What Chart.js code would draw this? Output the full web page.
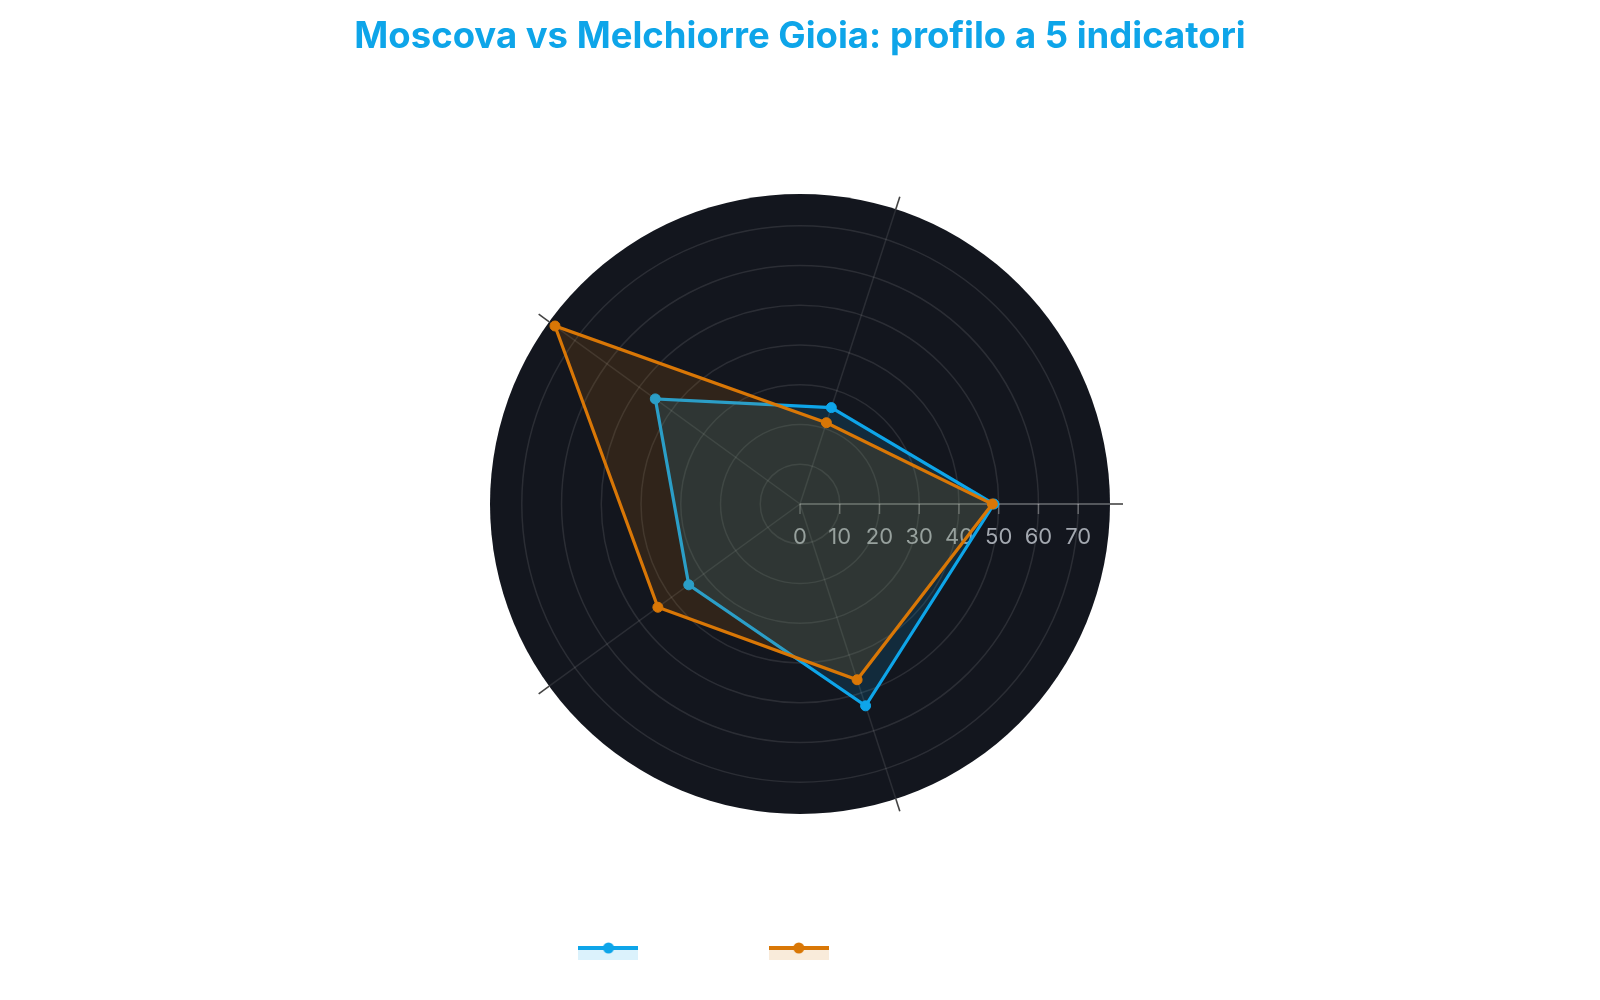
<!DOCTYPE html>
<html>
<head>
<meta charset="utf-8">
<title>Moscova vs Melchiorre Gioia</title>
<script src="https://cdn.jsdelivr.net/npm/chart.js@4.4.1/dist/chart.umd.min.js"></script>
<style>
  html, body { margin: 0; padding: 0; background: #ffffff; }
  #wrap { width: 1600px; height: 1000px; position: relative; }
</style>
</head>
<body>
<div id="wrap"><canvas id="chart"></canvas></div>
<script>
// ---- data (categories listed counter-clockwise starting from the right-hand axis) ----
const categories = ['Indicatore 1', 'Indicatore 2', 'Indicatore 3', 'Indicatore 4', 'Indicatore 5'];
const seriesNames = ['Moscova', 'Melchiorre Gioia'];
const moscovaValues = [48.8, 25.5, 45.0, 34.6, 53.4];
const melchiorreValues = [48.4, 21.5, 76.2, 44.2, 46.5];
const tickValues = [0, 10, 20, 30, 40, 50, 60, 70];
const axisMax = 78;

// ---- styles ----
const BLUE = '#0ea5e9';
const ORANGE = '#d97706';
const BLUE_FILL = 'rgba(14,165,233,0.15)';
const ORANGE_FILL = 'rgba(217,119,6,0.15)';

// Chart.js radar goes clockwise; the reference goes counter-clockwise from the right.
const order = [0, 4, 3, 2, 1];
const pick = arr => order.map(i => arr[i]);

function makeIcon(color, fill) {
  const c = document.createElement('canvas');
  c.width = 60; c.height = 24;
  const x = c.getContext('2d');
  x.fillStyle = fill; x.fillRect(0, 9, 60, 10);
  x.fillStyle = color; x.fillRect(0, 5, 60, 4);
  x.beginPath(); x.arc(30, 7, 5.5, 0, Math.PI * 2); x.fill();
  return c;
}
const icons = [makeIcon(BLUE, BLUE_FILL), makeIcon(ORANGE, ORANGE_FILL)];

const polarDecor = {
  id: 'polarDecor',
  beforeDatasetsDraw(chart) {
    const s = chart.scales.r;
    const ctx = chart.ctx;
    const R = s.getDistanceFromCenterForValue(axisMax);
    ctx.save();
    ctx.lineWidth = 1.6;
    ctx.strokeStyle = '#444444';
    for (let i = 0; i < categories.length; i++) {
      const a = s.getPointPosition(i, R);
      const b = s.getPointPosition(i, R + 13);
      ctx.beginPath(); ctx.moveTo(a.x, a.y); ctx.lineTo(b.x, b.y); ctx.stroke();
    }
    const p0 = s.getPointPosition(0, 0);
    const p1 = s.getPointPosition(0, R);
    ctx.lineWidth = 1.5;
    ctx.strokeStyle = 'rgba(255,255,255,0.3)';
    ctx.beginPath(); ctx.moveTo(p0.x, p0.y); ctx.lineTo(p1.x, p1.y); ctx.stroke();
    ctx.fillStyle = '#a3a8b0';
    ctx.font = '22px Inter';
    ctx.textAlign = 'center';
    ctx.textBaseline = 'middle';
    tickValues.forEach(v => {
      const p = s.getPointPositionForValue(0, v);
      ctx.beginPath(); ctx.moveTo(p.x, p.y); ctx.lineTo(p.x, p.y + 10); ctx.stroke();
      ctx.fillText(String(v), p.x, p.y + 33);
    });
    ctx.restore();
  }
};

Chart.defaults.font.family = 'Inter';

new Chart(document.getElementById('chart'), {
  type: 'radar',
  data: {
    labels: pick(categories),
    datasets: [
      {
        label: seriesNames[0],
        data: pick(moscovaValues),
        borderColor: BLUE,
        backgroundColor: BLUE_FILL,
        pointBackgroundColor: BLUE,
        pointBorderColor: BLUE,
        borderWidth: 3.2,
        pointRadius: 5,
        pointBorderWidth: 1,
        fill: true,
        order: 1
      },
      {
        label: seriesNames[1],
        data: pick(melchiorreValues),
        borderColor: ORANGE,
        backgroundColor: ORANGE_FILL,
        pointBackgroundColor: ORANGE,
        pointBorderColor: ORANGE,
        borderWidth: 3.2,
        pointRadius: 5,
        pointBorderWidth: 1,
        fill: true,
        order: 0
      }
    ]
  },
  options: {
    responsive: true,
    maintainAspectRatio: false,
    animation: false,
    layout: { padding: { top: 0, bottom: 25.3, left: 0, right: 0 } },
    elements: { line: { tension: 0 } },
    scales: {
      r: {
        min: 0,
        max: axisMax,
        startAngle: 90,
        backgroundColor: '#13161e',
        grid: {
          circular: true,
          color: ctx => (ctx.tick && ctx.tick.value >= axisMax) ? 'rgba(0,0,0,0)' : 'rgba(255,255,255,0.1)',
          lineWidth: 1.5
        },
        angleLines: { color: 'rgba(255,255,255,0.1)', lineWidth: 1.5 },
        ticks: { display: false, stepSize: 10 },
        pointLabels: { display: false }
      }
    },
    plugins: {
      title: {
        display: true,
        text: 'Moscova vs Melchiorre Gioia: profilo a 5 indicatori',
        color: BLUE,
        font: { family: 'Inter', size: 36.5, weight: 'bold' },
        padding: { top: 15.1, bottom: 135.1 }
      },
      legend: {
        position: 'bottom',
        title: { display: true, text: '', font: { size: 10 }, padding: { top: 97.3, bottom: 0 } },
        labels: {
          usePointStyle: true,
          pointStyleWidth: 60,
          boxHeight: 22,
          padding: 18,
          color: '#ffffff',
          font: { family: 'Inter', size: 23.4 },
          generateLabels(chart) {
            const items = Chart.defaults.plugins.legend.labels.generateLabels(chart);
            items.forEach(it => { it.pointStyle = icons[it.datasetIndex]; it.fontColor = '#ffffff'; });
            items.sort((a, b) => a.datasetIndex - b.datasetIndex);
            return items;
          }
        }
      },
      tooltip: { enabled: false }
    }
  },
  plugins: [polarDecor]
});
</script>
</body>
</html>
